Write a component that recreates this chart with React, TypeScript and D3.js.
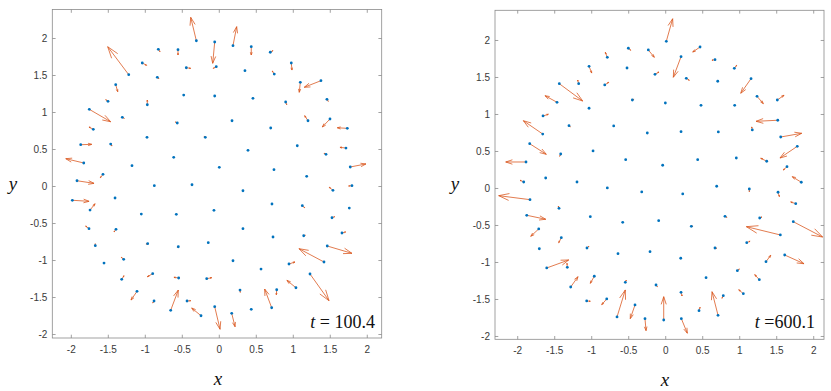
import React from 'react';
import * as d3 from 'd3';

// ---------- Left panel (t = 100.4) ----------
const leftX = [
  -0.31, -1.224, -0.824, -0.558, -1.041, -0.446, -0.838, -1.4, -0.481, -1.504, -0.973, -1.757, -1.311, -1.703, -0.568, -0.977, -0.189, -1.873, -1.468, -1.832, -0.616, -1.18,
  -0.062, 0.185, 0.432, 0.689, -0.041, 0.347, 0.743, 0.973, 1.095, 1.374, -0.062, 0.455, 0.897, 1.455, 0.172, 0.695, 1.199, 1.496, 1.73, 1.054, 0.388, 1.442, 1.712, 1.77, 0, 0.739,
  -1.572, -1.923, -0.878, -0.369, -1.986, -1.409, -1.747, -1.054, -0.581, -1.761, -1.396, -1.676, -0.968, -0.554, -0.149, -1.558, -1.292, -1.319, -0.9, -0.549, -0.17, -1.112, -0.882, -0.657, -0.436, -0.247,
  1.181, 0.32, 1.536, 1.793, -0.072, 0.712, 1.122, 1.757, 0.32, 0.726, 1.141, 1.523, 1.658, 1.459, 1.415, 0.185, 0.564, 0.942, 1.226, 1.036, 0.28, 0.776, 0.708, 0.432, -0.062, 0.168,
];
const leftY = [
  1.97, 1.511, 1.854, 1.849, 1.669, 1.605, 1.476, 1.376, 1.236, 1.151, 1.105, 1.043, 0.935, 0.773, 0.858, 0.665, 0.665, 0.565, 0.574, 0.318, 0.395, 0.281,
  1.953, 1.903, 1.889, 1.814, 1.619, 1.565, 1.52, 1.669, 1.408, 1.43, 1.223, 1.192, 1.142, 1.178, 0.889, 0.791, 0.889, 0.912, 0.786, 0.551, 0.489, 0.435, 0.52, 0.264, 0.259, 0.227,
  0.165, 0.078, 0.011, 0.024, -0.186, -0.155, -0.318, -0.372, -0.376, -0.57, -0.578, -0.8, -0.773, -0.814, -0.759, -1.034, -0.984, -1.254, -1.178, -1.236, -1.246, -1.416, -1.547, -1.673, -1.547, -1.746,
  0.138, -0.057, -0.051, 0.011, -0.322, -0.236, -0.259, -0.291, -0.57, -0.682, -0.665, -0.422, -0.628, -0.804, -1.02, -1.003, -1.115, -1.047, -1.182, -1.368, -1.399, -1.395, -1.638, -1.659, -1.624, -1.714,
];
const leftU = [
  -0.076, -0.284, 0.023, 0, 0.059, 0.059, 0.023, 0.027, 0, -0.031, 0, 0.289, 0.027, -0.058, -0.027, 0, -0.018, 0.149, 0.018, -0.243, 0, 0,
  -0.027, 0.05, 0, 0.036, -0.041, 0, -0.027, 0.009, -0.014, -0.226, 0, 0, 0.014, 0.018, 0, 0, -0.045, -0.104, -0.135, 0, 0, -0.027, -0.081, 0.212, 0, 0,
  -0.036, 0.23, 0, 0, 0.226, 0, 0.068, 0, 0, -0.045, -0.027, 0, -0.023, -0.014, 0, 0, -0.032, 0.031, -0.073, -0.064, 0.068, -0.081, -0.018, 0.103, 0.05, -0.126,
  0, 0, -0.05, -0.045, 0, 0, 0.032, 0, 0, 0, 0.022, 0.036, 0.05, 0.334, -0.338, 0, 0, 0.081, 0.257, -0.122, 0.004, -0.005, -0.095, 0, 0.072, 0.045,
];
const leftV = [
  0.316, 0.378, -0.032, -0.072, -0.031, -0.008, -0.019, -0.095, 0, 0.022, 0.064, -0.168, -0.014, 0.031, 0.014, 0, 0.014, 0.005, -0.027, 0.058, 0, 0,
  -0.288, 0.257, -0.112, 0.022, -0.022, 0, 0.041, -0.095, -0.135, -0.089, 0, 0, -0.036, -0.027, 0, 0, 0.068, -0.108, 0.008, 0, 0, 0.014, 0.009, 0.041, 0, 0,
  -0.046, -0.035, 0, 0, -0.014, 0, 0.085, 0, 0, 0.036, -0.036, 0.027, -0.004, -0.008, 0, 0, 0.027, 0.049, -0.041, 0.009, 0.014, -0.118, -0.027, 0.274, 0.004, 0.104,
  0, 0, 0.041, -0.004, 0, 0, -0.027, 0.01, 0, 0, 0.005, 0.014, 0.014, -0.099, 0.18, 0, 0, 0.027, -0.361, 0.1, -0.031, -0.068, 0.253, 0, -0.305, -0.181,
];

// ---------- Right panel (t = 600.1) ----------
const rightX = [
  -0.505, -0.235, -0.789, -0.523, -1.036, -1.176, -0.824, -1.438, -1.469, -0.451, -1.036, -1.658, -1.307, -0.703, -0.249, -1.662, -1.838, -1.419, -0.982, -0.541, -1.888,
  0.008, 0.464, 0.207, 0.666, -0.145, 0.278, 0.927, 0.703, 1.153, -0.005, 0.477, 0.932, 1.234, 1.508, 1.514, 1.17, 0.207, 0.711, 1.554, 1.778, -0.041, 0.432, 0.954, 1.365, 1.639,
  -1.919, -1.622, -1.199, -0.789, -0.324, -1.834, -1.442, -1.878, -1.019, -0.581, -1.716, -1.411, -1.708, -1.064, -0.645, -0.212, -1.608, -1.33, -1.284, -0.965, -0.546, -1.068, -0.797, -0.658, -0.415, -0.28,
  1.832, 0.689, 0.23, 1.13, 1.518, 1.757, 0.801, 1.27, -0.095, 0.346, 1.549, 1.724, 0.666, 1.095, 0.203, 1.355, 1.608, 0.968, 0.545, 1.265, -0.131, 0.207, 0.778, 1.049, -0.027, 0.45, 0.707, 0.211,
];
const rightY = [
  1.895, 1.872, 1.773, 1.628, 1.651, 1.416, 1.399, 1.416, 1.165, 1.196, 1.084, 0.98, 0.849, 0.845, 0.75, 0.736, 0.605, 0.466, 0.507, 0.389, 0.358,
  1.989, 1.912, 1.781, 1.741, 1.543, 1.489, 1.624, 1.449, 1.484, 1.155, 1.124, 1.124, 1.246, 1.196, 0.922, 0.791, 0.768, 0.764, 0.696, 0.57, 0.314, 0.389, 0.412, 0.368, 0.295,
  0.088, 0.142, 0.088, 0.007, -0.047, -0.151, -0.268, -0.362, -0.381, -0.457, -0.547, -0.665, -0.814, -0.804, -0.881, -0.854, -1.074, -1.065, -1.331, -1.186, -1.268, -1.52, -1.493, -1.736, -1.574, -1.759,
  0.084, 0.03, -0.074, -0.007, -0.051, -0.205, -0.376, -0.399, -0.435, -0.511, -0.628, -0.449, -0.804, -0.732, -0.943, -0.989, -0.899, -1.111, -1.205, -1.232, -1.304, -1.403, -1.449, -1.422, -1.777, -1.651, -1.714, -1.759,
];
const rightU = [
  0.032, 0.081, -0.027, 0, 0.036, -0.014, 0.054, 0.316, -0.162, 0.023, 0, 0.072, 0.018, 0, 0, -0.262, 0.224, -0.014, 0, 0, -0.274,
  0.086, -0.099, -0.104, -0.041, 0.054, 0.041, 0.032, 0, -0.139, 0, 0, 0, 0.085, 0.091, -0.293, -0.008, 0, 0, 0.284, -0.234, 0, 0, 0, -0.081, -0.05,
  -0.05, 0, 0, 0, 0, -0.423, -0.009, 0.257, 0, 0, -0.108, -0.035, 0, 0.027, 0, 0, 0.297, -0.004, 0.099, -0.054, 0.014, 0.049, -0.068, 0.112, -0.064, 0.014,
  -0.122, 0, 0, 0, 0.018, -0.068, 0.027, 0.031, 0, 0.023, -0.459, 0.397, 0.023, 0.045, 0, 0.064, 0.261, 0.027, 0, -0.062, 0.018, 0.014, -0.018, -0.062, 0, 0.014, -0.081, 0.081,
];
const rightV = [
  -0.027, -0.099, 0.068, 0, -0.091, 0.05, 0.036, -0.234, 0.089, 0.009, 0, 0.023, -0.014, 0, 0, 0.18, -0.143, -0.031, 0, 0, 0,
  0.305, -0.068, -0.278, -0.008, 0.031, -0.027, 0.041, 0, -0.197, 0, 0, 0, -0.1, 0.064, -0.014, 0.041, 0, 0, 0.05, -0.158, 0, 0, 0, 0.041, -0.045,
  0.023, 0, 0, 0, 0, 0.054, 0.031, -0.054, 0, 0, -0.099, -0.068, 0, 0.023, 0, 0, 0.108, 0.054, 0.139, -0.095, 0.031, -0.004, -0.077, 0.365, -0.185, -0.162,
  0.076, 0, 0, -0.036, -0.059, 0.023, -0.014, 0.014, 0, 0, 0.112, -0.207, -0.004, 0.019, 0, 0.086, -0.118, 0.023, 0, 0.068, -0.023, -0.05, -0.035, 0.054, 0.315, 0.046, 0.319, -0.197,
];

const tickValues = [-2, -1.5, -1, -0.5, 0, 0.5, 1, 1.5, 2];
const tickLabels = ['-2', '-1.5', '-1', '-0.5', '0', '0.5', '1', '1.5', '2'];

const leftXDomain = [-2.257, 2.195];
const leftYDomain = [-2.047, 2.392];
const rightXDomain = [-2.307, 2.139];
const rightYDomain = [-2.038, 2.408];

const BLUE = '#0072BD';
const ORANGE = '#D95319';
const AXIS = '#8a8a8a';
const TICKTXT = '#3a3a3a';
const SERIF = 'Liberation Serif, Times New Roman, serif';

type PanelProps = {
  x0: number; x1: number; y0: number; y1: number;
  xDomain: number[]; yDomain: number[];
  xs: number[]; ys: number[]; us: number[]; vs: number[];
  tVal: string; tSep: string; tRight: number; tBase: number;
  yLabX: number; yLabY: number; xLabX: number; xLabY: number;
};

function Panel(p: PanelProps) {
  const sx = d3.scaleLinear().domain(p.xDomain).range([p.x0, p.x1]);
  const sy = d3.scaleLinear().domain(p.yDomain).range([p.y1, p.y0]);
  const tl = 3.3;
  const alpha = 0.33, beta = 0.33;

  const arrows = p.xs.map((x, i) => {
    const u = p.us[i], v = p.vs[i];
    if (u === 0 && v === 0) return null;
    const px = sx(x), py = sy(p.ys[i]);
    const tx = sx(x + u), ty = sy(p.ys[i] + v);
    const du = tx - px, dv = ty - py;
    const h1x = tx - alpha * (du + beta * dv), h1y = ty - alpha * (dv - beta * du);
    const h2x = tx - alpha * (du - beta * dv), h2y = ty - alpha * (dv + beta * du);
    const path = d3.path();
    path.moveTo(px, py); path.lineTo(tx, ty);
    path.moveTo(h1x, h1y); path.lineTo(tx, ty); path.lineTo(h2x, h2y);
    return <path key={'a' + i} d={path.toString()} fill="none" stroke={ORANGE} strokeOpacity={0.9} strokeWidth={0.85} />;
  });

  return (
    <g>
      <rect x={p.x0} y={p.y0} width={p.x1 - p.x0} height={p.y1 - p.y0} fill="#fff" stroke={AXIS} strokeWidth={0.8} />
      {tickValues.map((t, i) => (
        <g key={'xt' + i}>
          <line x1={sx(t)} x2={sx(t)} y1={p.y1} y2={p.y1 - tl} stroke={AXIS} strokeWidth={0.8} />
          <line x1={sx(t)} x2={sx(t)} y1={p.y0} y2={p.y0 + tl} stroke={AXIS} strokeWidth={0.8} />
          <text x={sx(t)} y={p.y1 + 15} textAnchor="middle" fontSize={10} fontFamily="Liberation Sans, Arial, sans-serif" fill={TICKTXT}>{tickLabels[i]}</text>
        </g>
      ))}
      {tickValues.map((t, i) => (
        <g key={'yt' + i}>
          <line x1={p.x0} x2={p.x0 + tl} y1={sy(t)} y2={sy(t)} stroke={AXIS} strokeWidth={0.8} />
          <line x1={p.x1} x2={p.x1 - tl} y1={sy(t)} y2={sy(t)} stroke={AXIS} strokeWidth={0.8} />
          <text x={p.x0 - 5} y={sy(t) + 3.5} textAnchor="end" fontSize={10} fontFamily="Liberation Sans, Arial, sans-serif" fill={TICKTXT}>{tickLabels[i]}</text>
        </g>
      ))}
      {arrows}
      {p.xs.map((x, i) => (
        <circle key={'d' + i} cx={sx(x)} cy={sy(p.ys[i])} r={1.4} fill={BLUE} />
      ))}
      <text x={p.tRight} y={p.tBase} textAnchor="end" fontSize={18} fill="#111" fontFamily={SERIF}>
        <tspan fontStyle="italic">t</tspan>
        <tspan>{p.tSep}</tspan>
        <tspan>{p.tVal}</tspan>
      </text>
      <text x={p.yLabX} y={p.yLabY} textAnchor="middle" fontSize={19} fontFamily={SERIF} fontStyle="italic" fill="#111">y</text>
      <text x={p.xLabX} y={p.xLabY} textAnchor="middle" fontSize={19} fontFamily={SERIF} fontStyle="italic" fill="#111">x</text>
    </g>
  );
}

export default function App() {
  return (
    <svg width={831} height={391} viewBox="0 0 831 391" style={{ position: 'absolute', left: 0, top: 0, display: 'block', background: '#fff' }}>
      <Panel x0={52.3} x1={381.7} y0={9.5} y1={338} xDomain={leftXDomain} yDomain={leftYDomain}
        xs={leftX} ys={leftY} us={leftU} vs={leftV}
        tVal="100.4" tSep=" = " tRight={375} tBase={328}
        yLabX={13} yLabY={190} xLabX={218} xLabY={385} />
      <Panel x0={495} x1={824} y0={10.3} y1={339.3} xDomain={rightXDomain} yDomain={rightYDomain}
        xs={rightX} ys={rightY} us={rightU} vs={rightV}
        tVal="600.1" tSep=" =" tRight={815} tBase={328}
        yLabX={455} yLabY={190} xLabX={665} xLabY={386} />
    </svg>
  );
}
